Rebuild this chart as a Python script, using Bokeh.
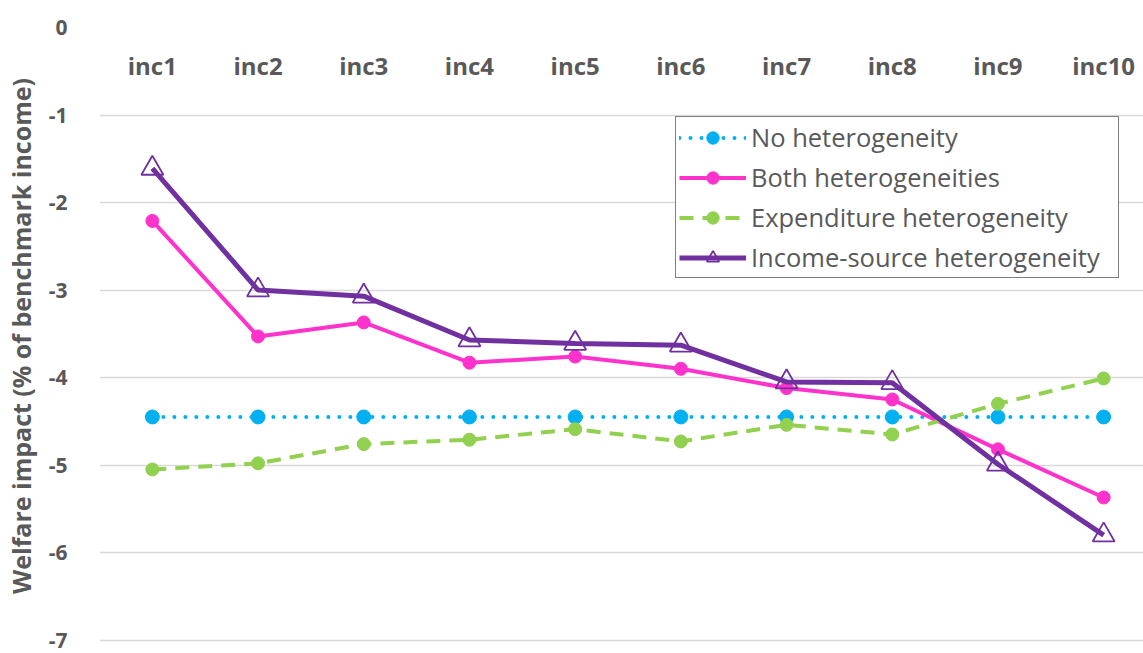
from bokeh.plotting import figure
from bokeh.models import (ColumnDataSource, Range1d, FixedTicker, Legend, LegendItem,
                          CustomJSTickFormatter)
from bokeh.embed import file_html
from bokeh.resources import INLINE
from bokeh.core.properties import value

categories = ["inc1", "inc2", "inc3", "inc4", "inc5", "inc6", "inc7", "inc8", "inc9", "inc10"]
no_het = [-4.45, -4.45, -4.45, -4.45, -4.45, -4.45, -4.45, -4.45, -4.45, -4.45]
both_het = [-2.21, -3.53, -3.37, -3.83, -3.76, -3.90, -4.12, -4.25, -4.82, -5.37]
exp_het = [-5.05, -4.98, -4.76, -4.71, -4.59, -4.73, -4.54, -4.65, -4.30, -4.01]
inc_het = [-1.61, -3.00, -3.07, -3.57, -3.61, -3.63, -4.05, -4.06, -4.99, -5.80]
y_ticks = [-7, -6, -5, -4, -3, -2, -1, 0]

xs = list(range(1, len(categories) + 1))
src = ColumnDataSource(dict(x=xs, cat=categories, no=no_het, both=both_het,
                            exp=exp_het, inc=inc_het,
                            ly=[-0.434] * len(categories)))

GRAY = "#595959"
FONT = "Open Sans"

p = figure(width=1143, height=653, output_backend="svg", toolbar_location=None,
           x_range=Range1d(0.5, 10.377), y_range=Range1d(-7.05, 0),
           x_axis_location=None, min_border_left=94, min_border_right=0,
           min_border_top=27, min_border_bottom=9)
p.outline_line_color = None
p.xgrid.visible = False
p.ygrid.grid_line_color = "#d9d9d9"
p.ygrid.grid_line_width = 1.5
p.ygrid.ticker = FixedTicker(ticks=y_ticks)

ax = p.yaxis[0]
ax.ticker = FixedTicker(ticks=y_ticks)
ax.formatter = CustomJSTickFormatter(code="return tick.toString();")
ax.axis_line_color = None
ax.major_tick_line_color = None
ax.minor_tick_line_color = None
ax.major_label_text_font = FONT
ax.major_label_text_font_style = "bold"
ax.major_label_text_font_size = "21px"
ax.major_label_text_color = GRAY
ax.major_label_standoff = 26
ax.axis_label = "Welfare impact (% of benchmark income)"
ax.axis_label_text_font = FONT
ax.axis_label_text_font_style = "bold"
ax.axis_label_text_font_size = "25px"
ax.axis_label_text_color = GRAY
ax.axis_label_standoff = 8

p.text(x="x", y="ly", text="cat", source=src, text_font=value(FONT),
       text_font_style="bold", text_font_size="24px", text_color=GRAY,
       text_align="center", text_baseline="middle")

l1 = p.line("x", "no", source=src, line_color="#00b0f0", line_width=4,
            line_dash="0 11", line_cap="round")
m1 = p.scatter("x", "no", source=src, marker="circle", size=14,
               fill_color="#00b0f0", line_color="#00b0f0")
l2 = p.line("x", "both", source=src, line_color="#ff33cc", line_width=4)
m2 = p.scatter("x", "both", source=src, marker="circle", size=13,
               fill_color="#ff33cc", line_color="#ff33cc")
l3 = p.line("x", "exp", source=src, line_color="#92d050", line_width=4,
            line_dash="14 9")
m3 = p.scatter("x", "exp", source=src, marker="circle", size=13,
               fill_color="#92d050", line_color="#92d050")
l4 = p.line("x", "inc", source=src, line_color="#7030a0", line_width=5)
m4 = p.scatter("x", "inc", source=src, marker="triangle", size=22,
               fill_color=None, line_color="#7030a0", line_width=1.8)

legend = Legend(items=[
    LegendItem(label="No heterogeneity", renderers=[l1, m1]),
    LegendItem(label="Both heterogeneities", renderers=[l2, m2]),
    LegendItem(label="Expenditure heterogeneity", renderers=[l3, m3]),
    LegendItem(label="Income-source heterogeneity", renderers=[l4, m4]),
], location=(576, 366))
legend.label_text_font = FONT
legend.label_text_font_size = "25.5px"
legend.label_text_color = GRAY
legend.glyph_width = 67
legend.glyph_height = 31
legend.spacing = 6
legend.padding = 3
legend.margin = 0
legend.label_standoff = 5
legend.label_width = 364
legend.border_line_color = "black"
legend.border_line_width = 1.5
legend.background_fill_color = "white"
legend.background_fill_alpha = 1
p.add_layout(legend, "center")

open("out.html", "w").write(file_html(p, INLINE))
